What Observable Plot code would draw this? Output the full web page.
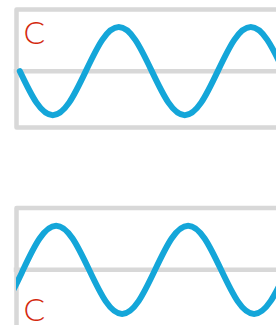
<!DOCTYPE html>
<html>
<head>
<meta charset="utf-8">
<script src="https://cdn.jsdelivr.net/npm/d3@7"></script>
<script src="https://cdn.jsdelivr.net/npm/@observablehq/plot@0.6"></script>
<style>
  html, body { margin: 0; padding: 0; background: #fff; overflow: hidden; width: 276px; height: 325px; }
  #chart svg { display: block; }
</style>
</head>
<body>
<div id="chart"></div>
<script>
// Top panel wave (x in quarter-period units, y in amplitude units)
const topX = [0.1, 0.6, 1.1, 1.6, 2.1, 2.6, 3.1, 3.6, 4.1, 4.6, 5.1, 5.6, 6.1, 6.6, 7.1, 7.6, 8.1];
const topY = [0, -0.71, -1, -0.71, 0, 0.71, 1, 0.71, 0, -0.71, -1, -0.71, 0, 0.71, 1, 0.71, 0];
// Bottom panel wave
const botX = [-0.8, -0.3, 0.2, 0.7, 1.2, 1.7, 2.2, 2.7, 3.2, 3.7, 4.2, 4.7, 5.2, 5.7, 6.2, 6.7, 7.2, 7.7, 8.2];
const botY = [-1, -0.71, 0, 0.71, 1, 0.71, 0, -0.71, -1, -0.71, 0, 0.71, 1, 0.71, 0, -0.71, -1, -0.71, 0];
// Panel labels
const panelLabels = ["C", "C"];

const GRAY = "#d8d8d8", BLUE = "#14a6d9", RED = "#d42a0f";

function panel(xs, ys, label, o) {
  const pts = xs.map((x, i) => ({x, y: ys[i]}));
  return Plot.plot({
    width: 276,
    height: o.height,
    marginTop: o.marginTop,
    marginBottom: o.marginBottom,
    marginLeft: 16,
    marginRight: -4,
    x: {domain: [0, 8], axis: null},
    y: {domain: o.yDomain, axis: null},
    style: {background: "white", overflow: "hidden"},
    marks: [
      Plot.frame({stroke: GRAY, strokeWidth: 4.5, strokeLinejoin: "round"}),
      Plot.ruleY([0], {stroke: GRAY, strokeWidth: 4.5, strokeLinecap: "square"}),
      Plot.line(pts, {x: "x", y: "y", curve: "natural", stroke: BLUE, strokeWidth: 6, strokeLinecap: "round", strokeLinejoin: "round", clip: true}),
      Plot.text([label], {
        text: d => d,
        frameAnchor: o.anchor,
        textAnchor: "start",
        dx: 7,
        dy: o.labelDy,
        fill: RED,
        fontSize: 32,
        fontFamily: "Lato, 'Open Sans', sans-serif",
        fontWeight: 300
      })
    ]
  });
}

const chart = document.getElementById("chart");
chart.append(panel(topX, topY, panelLabels[0], {
  height: 140, marginTop: 9, marginBottom: 13, yDomain: [-1.28, 1.4], anchor: "top-left", labelDy: 12
}));
chart.append(panel(botX, botY, panelLabels[1], {
  height: 185, marginTop: 67.5, marginBottom: -3.9, yDomain: [-1.35, 1.4], anchor: "bottom-left", labelDy: -8
}));
</script>
</body>
</html>
